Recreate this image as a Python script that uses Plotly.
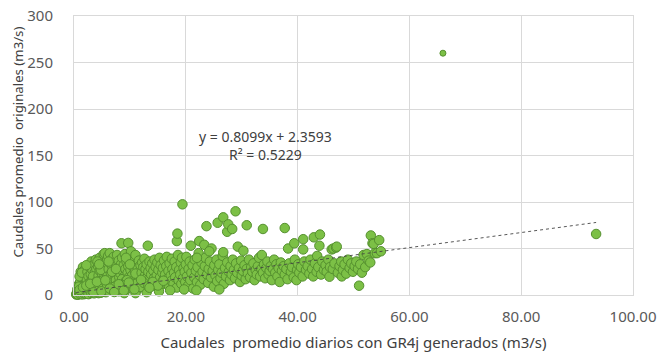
import plotly.graph_objects as go

# Caudales promedio diarios simulados con GR4J (m3/s)
q_gr4j = [
    0.4, 0.5, 0.6, 0.7, 0.8, 0.9, 1.0, 1.0, 1.1, 1.2, 1.3, 1.3, 1.4, 1.5, 1.5, 1.6, 1.7, 1.7, 1.8, 1.9, 1.9, 2.0, 2.0,
    0.8, 1.1, 1.4, 1.2, 0.6, 1.8, 2.1, 0.9, 1.2, 1.6, 1.9, 1.0, 1.4,
    2.2, 2.3, 2.3, 2.4, 2.5, 2.5, 2.6, 2.7, 2.7, 2.8, 2.9, 3.0, 3.0, 3.1, 3.1, 3.2, 3.3, 3.3, 3.4, 3.5, 3.5, 3.6, 3.7,
    3.7, 3.8, 3.9, 3.9, 4.0, 4.0, 2.2, 2.6, 3.4, 2.9, 3.8,
    4.1, 4.2, 4.3, 4.4, 4.4, 4.5, 4.6, 4.6, 4.7, 4.8, 4.9, 4.9, 5.0, 5.1, 5.2, 5.2, 5.3, 5.4, 5.5, 5.5, 5.6, 5.7, 5.7,
    5.8, 5.9, 6.0, 6.0, 4.2, 4.8, 5.3, 4.5, 5.9,
    6.1, 6.2, 6.3, 6.3, 6.4, 6.5, 6.5, 6.6, 6.7, 6.8, 6.9, 6.9, 7.0, 7.1, 7.2, 7.3, 7.3, 7.4, 7.5, 7.6, 7.7, 7.7, 7.8,
    7.9, 8.0, 8.1, 8.2, 8.2, 8.3, 8.4, 8.5, 8.5, 8.6, 8.7, 8.8, 8.9, 9.0, 6.2, 6.8, 7.5, 8.0, 8.6,
    9.1, 9.2, 9.3, 9.4, 9.5, 9.6, 9.7, 9.7, 9.8, 9.9, 10.0, 10.1, 10.2, 10.3, 10.4, 10.5, 10.6, 10.7, 10.8, 10.9, 11.0,
    11.1, 11.2, 11.3, 11.4, 11.5, 11.6, 11.7, 11.8, 11.9, 12.0, 9.3, 10.0, 11.0, 9.5,
    12.1, 12.2, 12.3, 12.4, 12.5, 12.6, 12.7, 12.8, 12.9, 13.0, 13.2, 13.1, 13.3, 13.4, 13.5, 13.6, 13.7, 13.8, 13.9,
    14.0, 14.2, 14.3, 14.4, 14.5, 14.6, 14.8, 14.9, 15.0, 15.1, 15.3, 15.4, 15.5, 15.6, 15.8, 15.9, 16.0,
    16.1, 16.3, 16.4, 16.5, 16.6, 16.8, 16.9, 17.0, 17.1, 17.3, 17.4, 17.5, 17.6, 17.8, 17.9, 18.0, 18.1, 18.3, 18.4,
    18.5, 18.4, 18.6, 18.7, 18.8, 19.0, 19.1, 19.2, 19.3, 19.4, 19.5, 19.6, 19.8, 19.9, 20.0,
    20.1, 20.2, 20.4, 20.5, 20.7, 20.9, 20.8, 21.0, 21.2, 21.3, 21.5, 21.6, 21.8, 22.0, 22.1, 22.3, 22.4, 22.5, 22.6,
    22.8, 23.0, 23.2, 23.3, 23.4, 23.5, 23.7, 23.8, 24.0, 24.1, 24.3, 24.5, 24.6, 24.8, 25.0, 25.1, 22.0, 24.2,
    25.3, 25.5, 25.7, 25.6, 25.8, 26.0, 26.2, 26.4, 26.6, 26.7, 26.7, 26.8, 27.0, 27.2, 27.4, 27.4, 27.6, 27.7, 27.9,
    28.0, 28.3, 28.2, 28.4, 28.6, 28.9, 28.8, 29.0, 29.3, 29.2, 29.5, 29.7, 29.9, 30.0,
    30.2, 30.3, 30.5, 30.7, 30.9, 30.9, 31.1, 31.3, 31.5, 31.7, 31.9, 32.1, 32.3, 32.5, 32.7, 32.9, 33.1, 33.3, 33.6,
    33.5, 33.8, 33.8, 34.0, 34.2, 34.4, 34.6, 34.8, 35.0,
    35.2, 35.4, 35.6, 35.8, 36.0, 36.2, 36.4, 36.6, 36.8, 37.0, 37.2, 37.5, 37.7, 37.7, 38.0, 38.3, 38.2, 38.5, 38.8,
    39.0, 39.4, 39.3, 39.5, 39.8, 39.9,
    40.1, 40.3, 40.6, 41.0, 41.0, 40.9, 41.2, 41.5, 41.8, 42.1, 42.3, 42.6, 42.8, 42.9, 43.1, 43.4, 43.5, 43.7, 43.9,
    44.0, 44.2, 44.4, 44.7, 45.0,
    45.2, 45.5, 45.7, 45.8, 46.1, 46.4, 46.3, 46.6, 46.9, 47.0, 47.2, 47.5, 47.9, 47.8, 48.1, 48.4, 48.7, 49.0, 49.3,
    49.6, 49.9, 50.2, 50.5, 50.8, 51.0, 51.2, 51.5, 51.8, 52.1, 52.4, 52.7, 53.0, 53.1, 53.4, 53.6, 53.8, 54.2, 54.6,
    54.9,
    13.0, 15.2, 17.2, 19.7, 21.9, 26.0, 11.0, 9.0,
    0.5, 0.7, 0.9, 1.1, 1.3, 1.5, 1.7, 1.9, 2.1, 2.4, 2.6, 2.8, 3.1, 3.3, 3.6, 3.9, 4.2, 4.5, 4.8, 5.1, 5.4, 5.8,
    6.1, 6.5, 6.9, 7.3, 7.7, 8.1, 8.5, 9.0, 9.5, 10.0, 10.5, 11.2, 11.8, 12.5, 13.3, 14.1, 15.0, 16.0,
    1.0, 1.6, 2.2, 2.9, 3.5, 4.1, 4.9, 5.6, 6.4, 7.2, 8.0, 8.9, 9.8, 10.8, 12.0, 13.5,
    66.0, 93.4,
]

# Caudales promedio observados (m3/s)
q_obs = [
    0.5, 2, 1, 4, 0.8, 3, 6, 1.5, 9, 2.5, 5, 12, 1, 7, 3.5, 15, 2, 10, 5, 18, 1, 8, 3,
    11, 14, 19, 7.5, 6, 22, 13, 9, 25, 30, 27, 20, 24,
    2, 6, 16, 25, 11, 4, 20, 1.5, 9, 30, 14, 5, 22, 3, 36, 10, 18, 27, 7, 2.5, 13, 33, 24,
    5, 16, 38, 9, 28, 3, 32, 12, 20, 8, 12,
    15, 6, 31, 21, 2, 11, 40, 26, 8, 17, 35, 4, 23, 13, 29, 6, 44, 19, 10, 45, 32, 3, 25,
    15, 37, 8, 21, 36, 27, 16, 33, 12,
    42, 28, 5, 17, 45, 34, 11, 23, 38, 7, 30, 19, 14, 41, 26, 9, 35, 21, 16, 31, 6, 43, 25,
    12, 37, 19, 29, 8, 23, 33, 55.6, 14, 40, 26, 10, 32, 20, 36, 25, 28, 4, 17,
    44, 28, 15, 36, 8, 24, 56, 31, 19, 41, 12, 27, 47, 35, 21, 9, 30, 16, 38, 25, 43,
    13, 33, 20, 29, 7, 37, 18, 26, 32, 11, 40, 33, 23, 16,
    24, 35, 15, 30, 9, 39, 21, 28, 14, 33, 53, 19, 25, 8, 36, 17, 29, 22, 12,
    34, 26, 18, 38, 10, 30, 21, 35, 14, 27, 40, 19, 32, 11, 24, 29, 16,
    37, 22, 13, 31, 41, 18, 26, 9, 34, 21, 15, 39, 28, 12, 24, 36, 19, 30, 58,
    66, 8, 43, 16, 27, 22, 35, 12, 40, 97.5, 18, 29, 25, 14, 33,
    41, 20, 10, 28, 36, 53, 16, 24, 32, 7, 19, 38, 26, 14, 30, 45, 58, 21, 11,
    35, 25, 17, 54, 31, 40, 74, 22, 13, 28, 36, 19, 50, 26, 9, 32, 40, 47,
    21, 38, 77.7, 15, 27, 33, 18, 24, 42, 83.5, 46, 12, 29, 20, 68, 35, 76, 25, 16,
    31, 71, 22, 38, 27, 90, 18, 34, 52, 24, 29, 14, 37, 21,
    26, 47.6, 32, 17, 75, 28, 23, 38, 19, 30, 25, 34, 16, 27, 22, 31, 40, 20, 43,
    28, 71, 24, 33, 18, 29, 36, 22, 26,
    31, 16, 28, 38, 24, 33, 20, 29, 14, 35, 26, 31, 72, 22, 28, 50, 17, 34, 25,
    30, 55.6, 19, 38, 16, 27,
    33, 24, 30, 60, 49, 20, 36, 27, 31, 23, 38, 28, 20, 62, 34, 25, 42, 30, 53,
    65, 22, 36, 27, 32,
    25, 38, 19.7, 30, 49, 50, 28, 34, 51, 52, 24, 31, 20, 36, 27, 33, 23, 38, 29,
    34, 25, 31, 36, 28, 10, 33, 24, 43, 30, 44, 37, 35, 64, 55.6, 55, 45, 45, 59,
    47,
    3, 4, 5, 6, 5, 6, 2, 2,
    1.2, 0.4, 2.6, 1.0, 3.3, 0.7, 2.0, 4.1, 1.5, 3.0, 0.9, 5.0, 2.2, 4.4, 1.8, 6.0, 3.1, 5.3, 2.4, 6.8, 3.9, 7.5,
    4.6, 8.1, 5.2, 9.0, 5.8, 9.6, 6.5, 10.4, 7.1, 11.0, 7.9, 12.2, 8.6, 13.0, 9.4, 14.1, 10.2, 15.3,
    5.5, 8.3, 10.1, 12.0, 2.9, 14.2, 4.0, 15.8, 6.9, 3.2, 11.6, 4.7, 13.4, 6.1, 16.3, 7.8,
    260, 65.6,
]

# Ajuste lineal (línea de tendencia)
slope = 0.8099
intercept = 2.3593
r2 = 0.5229

x_title = "Caudales\u00a0\u00a0promedio diarios con GR4j generados (m3/s)"
y_title = "Caudales promedio\u00a0\u00a0originales (m3/s)"

marker_sizes = [6 if y > 200 else 9.5 for y in q_obs]

fill_green = "#7cc046"
edge_green = "#55902f"
text_grey = "#595959"
title_grey = "#404040"
font_family = "Noto Sans, Open Sans, sans-serif"

x_min, x_max = min(q_gr4j), max(q_gr4j)
trend_x = [x_min, x_max]
trend_y = [slope * x + intercept for x in trend_x]

fig = go.Figure()
fig.add_trace(go.Scatter(
    x=q_gr4j, y=q_obs, mode="markers",
    marker=dict(size=marker_sizes, color=fill_green, opacity=1,
                line=dict(color=edge_green, width=1)),
    cliponaxis=False, showlegend=False, hoverinfo="x+y",
))
fig.add_trace(go.Scatter(
    x=trend_x, y=trend_y, mode="lines",
    line=dict(color="#444444", width=0.9, dash="dot"),
    showlegend=False, hoverinfo="skip",
))

# Ecuación de la recta y coeficiente de determinación
fig.add_annotation(
    x=34.3, y=161, xref="x", yref="y",
    text=f"y = {slope:.4f}x + {intercept:.4f}<br>R² = {r2:.4f}",
    showarrow=False, align="center",
    font=dict(family=font_family, size=14, color=title_grey),
)

# Título del eje vertical (desplazado hacia arriba respecto al centro del área)
fig.add_annotation(
    x=-0.1, y=0.547, xref="paper", yref="paper",
    text=y_title, textangle=-90, showarrow=False,
    xanchor="center", yanchor="middle",
    font=dict(family=font_family, size=13.2, color=title_grey),
)

fig.update_layout(
    width=657, height=352,
    margin=dict(l=74, r=24, t=16, b=57),
    paper_bgcolor="white", plot_bgcolor="white",
    font=dict(family=font_family, size=15, color=text_grey),
    xaxis=dict(
        range=[0, 100], tickvals=[0, 20, 40, 60, 80, 100], tickformat=".2f",
        showgrid=True, gridcolor="#d9d9d9", gridwidth=1,
        showline=True, linecolor="#d9d9d9", mirror=True,
        zeroline=False, ticks="", ticklabelstandoff=8, automargin=False,
        title=dict(text=x_title, font=dict(size=15, color=title_grey), standoff=12),
    ),
    yaxis=dict(
        range=[0, 300], tickvals=[0, 50, 100, 150, 200, 250, 300],
        showgrid=True, gridcolor="#d9d9d9", gridwidth=1,
        showline=True, linecolor="#d9d9d9", mirror=True,
        zeroline=False, ticks="", ticklabelstandoff=17, automargin=False,
    ),
)

fig.write_html("out.html")
